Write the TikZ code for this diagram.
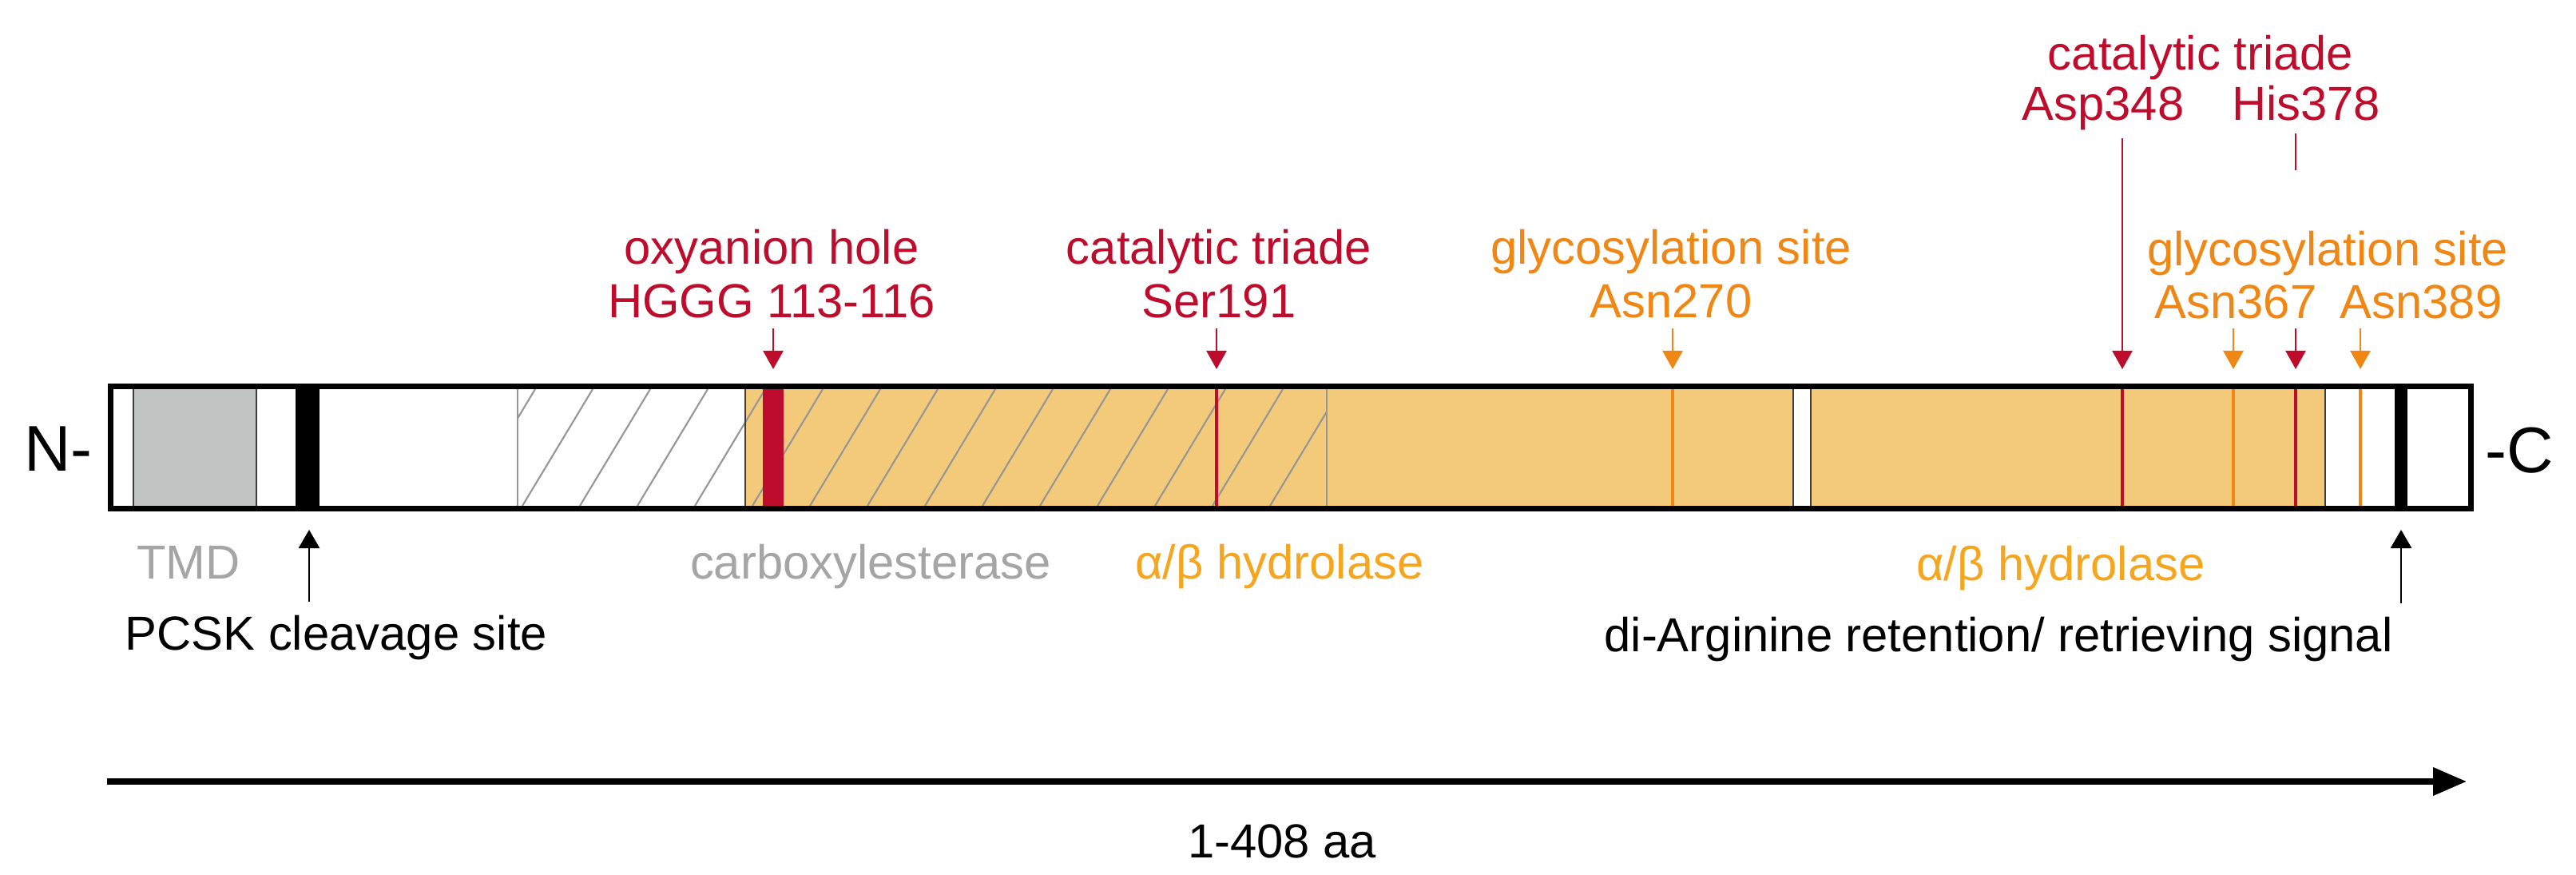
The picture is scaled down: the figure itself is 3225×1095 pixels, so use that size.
\documentclass[tikz,border=0pt]{standalone}
\usepackage{fontspec}
\setmainfont{Liberation Sans}
\usetikzlibrary{arrows.meta}
\definecolor{crim}{RGB}{190,12,45}
\definecolor{glyo}{RGB}{240,135,20}
\definecolor{hydo}{RGB}{245,165,30}
\definecolor{domfill}{RGB}{242,202,122}
\definecolor{tmdgray}{RGB}{195,196,196}
\definecolor{txtgray}{RGB}{165,165,165}
\definecolor{hatchgray}{RGB}{150,150,150}
\definecolor{divgray}{RGB}{60,60,60}
\begin{document}
\begin{tikzpicture}[x=0.01cm,y=-0.01cm,
  lab/.style={font=\fontsize{17}{20}\selectfont, inner sep=0pt, anchor=base},
  term/.style={font=\fontsize{23}{27}\selectfont, inner sep=0pt, anchor=base},
  downarr/.style={-{Triangle[length=0.23cm,width=0.25cm]}, line width=0.75pt},
  uparr/.style={-{Triangle[length=0.23cm,width=0.26cm]}, line width=0.75pt, black},
  marker/.style={line width=1.1pt},
  divider/.style={line width=0.45pt, divgray},
  hatchline/.style={line width=0.6pt, hatchgray}]
\useasboundingbox (0,0) rectangle (3225,1095);

% ---- bar fills ----
\fill[white] (138,483) rectangle (3094,637);
\fill[tmdgray] (167,483) rectangle (321,637);
\fill[black] (370,483) rectangle (400,637);
\fill[domfill] (933,483) rectangle (2245,637);
\fill[domfill] (2267,483) rectangle (2911,637);
\fill[black] (2998,483) rectangle (3014,637);
% hatch (carboxylesterase)
\begin{scope}
  \clip (648,487) rectangle (1661,633);
  \foreach \b in {510,582,...,1740}
    \draw[hatchline] (\b,633) -- (\b+88,487);
\end{scope}
\draw[line width=0.6pt, hatchgray] (648,483) -- (648,637);
\draw[line width=0.6pt, hatchgray] (1661,483) -- (1661,637);
% dividers
\foreach \x in {167,321,933,2245,2267,2911}
  \draw[divider] (\x,483) -- (\x,637);
% site markers on the bar
\fill[crim] (955,483) rectangle (981,637);
\draw[marker,crim] (1523,483) -- (1523,637);
\draw[marker,glyo] (2094,483) -- (2094,637);
\draw[marker,crim] (2657,483) -- (2657,637);
\draw[marker,glyo] (2796,483) -- (2796,637);
\draw[marker,crim] (2874,483) -- (2874,637);
\draw[marker,glyo] (2955,483) -- (2955,637);
% outer frame
\draw[line width=2pt] (138.5,483.5) rectangle (3093.5,636.5);

% ---- termini ----
\node[term] (nterm) at (73,590) {N-};
\node[term] (cterm) at (3154,592) {-C};

% ---- top labels ----
\node[lab,text=crim] (oxy1) at (966,331) {oxyanion hole};
\node[lab,text=crim] (oxy2) at (966,398) {HGGG 113-116};
\node[lab,text=crim] (ser1) at (1526,331) {catalytic triade};
\node[lab,text=crim] (ser2) at (1526,398) {Ser191};
\node[lab,text=glyo] (gly1) at (2092,331) {glycosylation site};
\node[lab,text=glyo] (gly2) at (2092,398) {Asn270};
\node[lab,text=crim] (cat1) at (2755,88) {catalytic triade};
\node[lab,text=crim] (asp) at (2633,151) {Asp348};
\node[lab,text=crim] (his) at (2887,151) {His378};
\node[lab,text=glyo] (gly3) at (2914,333) {glycosylation site};
\node[lab,text=glyo] (asn367) at (2799,399) {Asn367};
\node[lab,text=glyo] (asn389) at (3031,399) {Asn389};

% arrow end points
\coordinate (oxyT) at (968,411);   \coordinate (oxyB) at (968,462);
\coordinate (serT) at (1523,411);  \coordinate (serB) at (1523,462);
\coordinate (glyT) at (2094,411);  \coordinate (glyB) at (2094,462);
\coordinate (aspT) at (2657,173);  \coordinate (aspB) at (2657,462);
\coordinate (hisT) at (2874,167);  \coordinate (hisM) at (2874,213);
\coordinate (hisN) at (2874,411);  \coordinate (hisB) at (2874,462);
\coordinate (a67T) at (2796,411);  \coordinate (a67B) at (2796,462);
\coordinate (a89T) at (2955,411);  \coordinate (a89B) at (2955,462);

\draw[downarr,crim] (oxyT) -- (oxyB);
\draw[downarr,crim] (serT) -- (serB);
\draw[downarr,glyo] (glyT) -- (glyB);
\draw[downarr,crim] (aspT) -- (aspB);
\draw[line width=0.75pt,crim] (hisT) -- (hisM);
\draw[downarr,crim] (hisN) -- (hisB);
\draw[downarr,glyo] (a67T) -- (a67B);
\draw[downarr,glyo] (a89T) -- (a89B);

% ---- bottom labels ----
\node[lab,text=txtgray] (tmd) at (236,725) {TMD};
\node[lab,text=txtgray] (carb) at (1090,725) {carboxylesterase};
\node[lab,text=hydo] (hyd1) at (1602,725) {α/β hydrolase};
\node[lab,text=hydo] (hyd2) at (2580,727) {α/β hydrolase};
\node[lab,anchor=base west] (pcsk) at (156,814) {PCSK cleavage site};
\node[lab] (diarg) at (2502,816) {di-Arginine retention/ retrieving signal};
\coordinate (pcskB) at (387,753); \coordinate (pcskT) at (387,663);
\coordinate (diaB) at (3006,755); \coordinate (diaT) at (3006,663);
\draw[uparr] (pcskB) -- (pcskT);
\draw[uparr] (diaB) -- (diaT);

% ---- length axis ----
\coordinate (axS) at (134,978);
\coordinate (axE) at (3088,978);
\draw[line width=2pt,-{Triangle[length=0.42cm,width=0.34cm]}] (axS) -- (axE);
\node[lab] (len) at (1605,1073) {1-408 aa};
\end{tikzpicture}
\end{document}
